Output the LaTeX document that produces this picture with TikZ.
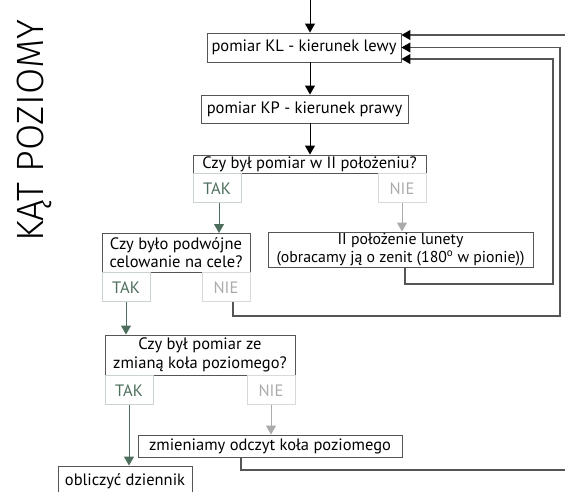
\documentclass[tikz,border=0pt]{standalone}
\usepackage{fontspec}
\setmainfont{PT Sans}
\newfontfamily\titlefont{Fira Sans}[UprightFont={* Light}]
\usetikzlibrary{arrows.meta}
\definecolor{takgreen}{HTML}{4E6E5D}
\definecolor{niegray}{HTML}{ABABAB}
\definecolor{linegray}{HTML}{555555}
\tikzset{
  box/.style={draw=linegray, line width=0.9pt, inner sep=0pt, align=center,
    font=\fontsize{16.5}{18.5}\selectfont},
  takbox/.style={draw=takgreen!30, line width=0.9pt, inner sep=0pt, text=takgreen,
    minimum width=48pt, minimum height=29pt, font=\fontsize{16.5}{18.5}\selectfont},
  niebox/.style={draw=niegray!45, line width=0.9pt, inner sep=0pt, text=niegray,
    minimum width=48pt, minimum height=29pt, font=\fontsize{16.5}{18.5}\selectfont},
  arr/.style={-{Triangle[length=9pt,width=10pt]}, line width=1pt},
  back/.style={draw=linegray, line width=1.2pt, -{Triangle[length=9pt,width=10pt,color=black]}},
}

\begin{document}
\begin{tikzpicture}[x=1pt, y=-1pt]
  \useasboundingbox (0,0) rectangle (565,491);
  \clip (0,0) rectangle (565,491);
  % ------------------------------------------------------------------ title
  \node[rotate=90, anchor=base, inner sep=0pt, font=\titlefont\fontsize{38}{40}\selectfont] (title) at (43,131) {KĄT POZIOMY};
  % ------------------------------------------------------------------ measurements
  \coordinate (start) at (310,0);
  \node[box, minimum width=194pt, minimum height=29pt] (kl) at (304,47.5) {pomiar KL - kierunek lewy};
  \node[box, minimum width=207pt, minimum height=28pt] (kp) at (304.5,109) {pomiar KP - kierunek prawy};
  \draw[arr] (start) -- (start |- kl.north);
  \draw[arr] (kl.south -| start) -- (kp.north -| start);
  % ------------------------------------------------------------------ question 1
  \node[box, minimum width=233pt, minimum height=18pt] (q1) at (309.5,164) {Czy był pomiar w II położeniu?};
  \node[takbox, anchor=north west] (tak1) at (q1.south west) {TAK};
  \node[niebox, anchor=north east] (nie1) at (q1.south east) {NIE};
  \draw[arr] (kp.south -| start) -- (q1.north -| start);
  \node[box, minimum width=265pt, minimum height=35pt, font=\fontsize{15.8}{17.5}\selectfont] (lun) at (400.5,249.5) {II położenie lunety\\(obracamy ją o zenit (180\textsuperscript{o} w pionie))};
  \draw[arr, takgreen] ([xshift=2pt]tak1.south) -- ([xshift=2pt]tak1.south |- 0,233);
  \draw[arr, niegray] (nie1.south) -- (nie1.south |- lun.north);
  % ------------------------------------------------------------------ question 2
  \node[box, minimum width=148pt, minimum height=39pt] (q2) at (176,252.5) {Czy było podwójne\\celowanie na cele?};
  \node[takbox, anchor=north west] (tak2) at (q2.south west) {TAK};
  \node[niebox, anchor=north east] (nie2) at (q2.south east) {NIE};
  % ------------------------------------------------------------------ question 3
  \node[box, minimum width=190pt, minimum height=40pt] (q3) at (200,355) {Czy był pomiar ze\\zmianą koła poziomego?};
  \node[takbox, anchor=north west] (tak3) at (q3.south west) {TAK};
  \node[niebox, anchor=north east] (nie3) at (q3.south east) {NIE};
  \draw[arr, takgreen] (tak2.south) -- (tak2.south |- q3.north);
  \node[box, minimum width=264pt, minimum height=22pt] (zm) at (270,446) {zmieniamy odczyt koła poziomego};
  \node[box, minimum width=134pt, minimum height=30pt] (obl) at (125,481) {obliczyć dziennik};
  \draw[arr, niegray] (nie3.south) -- (nie3.south |- zm.north);
  \draw[arr, takgreen] (tak3.south) -- (tak3.south |- obl.north);
  % ------------------------------------------------------------------ way back to KL
  \draw[back] ([xshift=4.5pt]lun.south) |- (553,284) |- ([yshift=-11.5pt]kl.east);
  \draw[back] ([xshift=7pt]nie2.south) |- (560,316) |- (kl.east);
  \draw[back] ([xshift=-29pt]zm.south) |- (580,470) |- ([yshift=12.5pt]kl.east);
\end{tikzpicture}
\end{document}
